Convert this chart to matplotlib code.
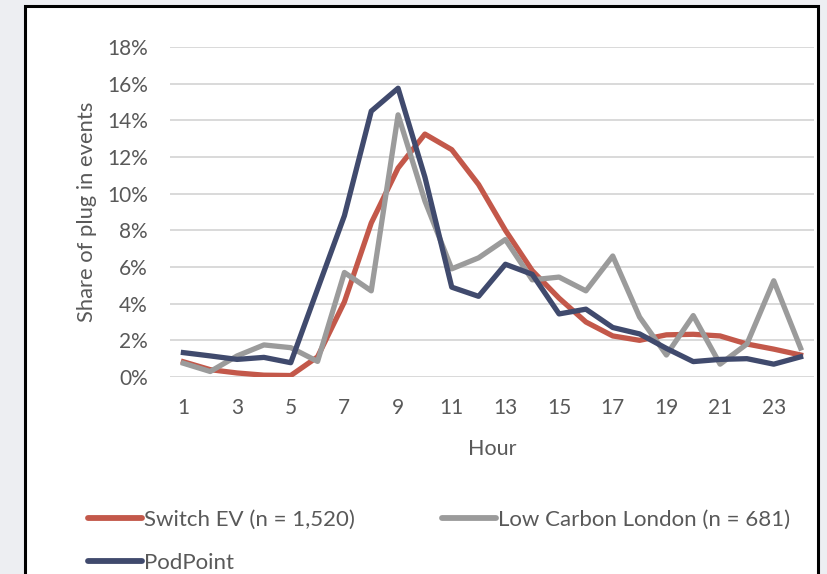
import matplotlib
matplotlib.use("Agg")
import matplotlib.pyplot as plt
from matplotlib.patches import Rectangle
from matplotlib.ticker import FuncFormatter
from matplotlib.lines import Line2D

hours = list(range(1, 25))
switch_ev = [0.83, 0.40, 0.22, 0.10, 0.08, 1.10, 4.10, 8.40, 11.40, 13.25, 12.40, 10.50,
             8.00, 5.80, 4.30, 3.00, 2.24, 2.00, 2.30, 2.33, 2.24, 1.80, 1.52, 1.20]
low_carbon = [0.75, 0.30, 1.15, 1.75, 1.60, 0.85, 5.70, 4.70, 14.30, 9.60, 5.90, 6.50,
              7.50, 5.30, 5.45, 4.70, 6.60, 3.27, 1.20, 3.35, 0.70, 1.80, 5.25, 1.58]
podpoint = [1.33, 1.15, 0.96, 1.07, 0.78, 4.80, 8.80, 14.50, 15.75, 10.90, 4.90, 4.40,
            6.15, 5.60, 3.44, 3.70, 2.70, 2.35, 1.56, 0.84, 0.96, 1.00, 0.70, 1.10]
series_names = ["Switch EV (n = 1,520)", "Low Carbon London (n = 681)", "PodPoint"]
colors = ["#C3584A", "#9B9B9B", "#404A6D"]
x_ticks = list(range(1, 24, 2))
y_ticks = list(range(0, 19, 2))

plt.rcParams['font.family'] = ['Lato', 'DejaVu Sans']
txt = "#595959"

W, H = 827, 574
fig = plt.figure(figsize=(W / 100, H / 100), dpi=100)
fig.patch.set_facecolor("#EDEEF2")

# white framed chart area
frame = Rectangle((25 / W, -0.05), (818 - 25) / W, 1.05 - 6 / H,
                  transform=fig.transFigure, facecolor="white", edgecolor="black",
                  linewidth=2.2, zorder=-10)
fig.patches.append(frame)

ax = fig.add_axes([170 / W, 1 - 377 / H, (814 - 170) / W, (377 - 47) / H])
ax.set_facecolor("none")

for vals, c, name in zip([switch_ev, low_carbon, podpoint], colors, series_names):
    ax.plot(hours, vals, color=c, lw=3.8, label=name, zorder=3)

ax.set_xlim(0.5, 24.5)
ax.set_ylim(0, 18)
ax.set_xticks(x_ticks)
ax.set_yticks(y_ticks)
ax.yaxis.set_major_formatter(FuncFormatter(lambda v, p: f"{int(v)}%"))
ax.grid(axis="y", color="#D9D9D9", lw=1.4, zorder=0)
ax.set_axisbelow(True)
for s in ax.spines.values():
    s.set_visible(False)
ax.tick_params(axis="both", length=0, labelsize=15, labelcolor=txt)
ax.tick_params(axis="x", pad=15)
ax.tick_params(axis="y", pad=16)
ax.set_xlabel("Hour", fontsize=15.5, color=txt, labelpad=15)
ax.set_ylabel("Share of plug in events", fontsize=15.8, color=txt, labelpad=7)

order = [0, 2, 1]
handles = [Line2D([0], [0], color=colors[i], lw=4.2, solid_capstyle="round") for i in order]
labels = [series_names[i] for i in order]
fig.legend(handles, labels, loc="upper left", bbox_to_anchor=(79 / W, 1 - 501 / H),
           ncol=2, frameon=False, fontsize=16, labelcolor=txt, handlelength=2.45,
           handletextpad=0.08, columnspacing=3.9, labelspacing=1.05, borderaxespad=0)

fig.savefig("out.png", dpi=100, facecolor=fig.get_facecolor())
